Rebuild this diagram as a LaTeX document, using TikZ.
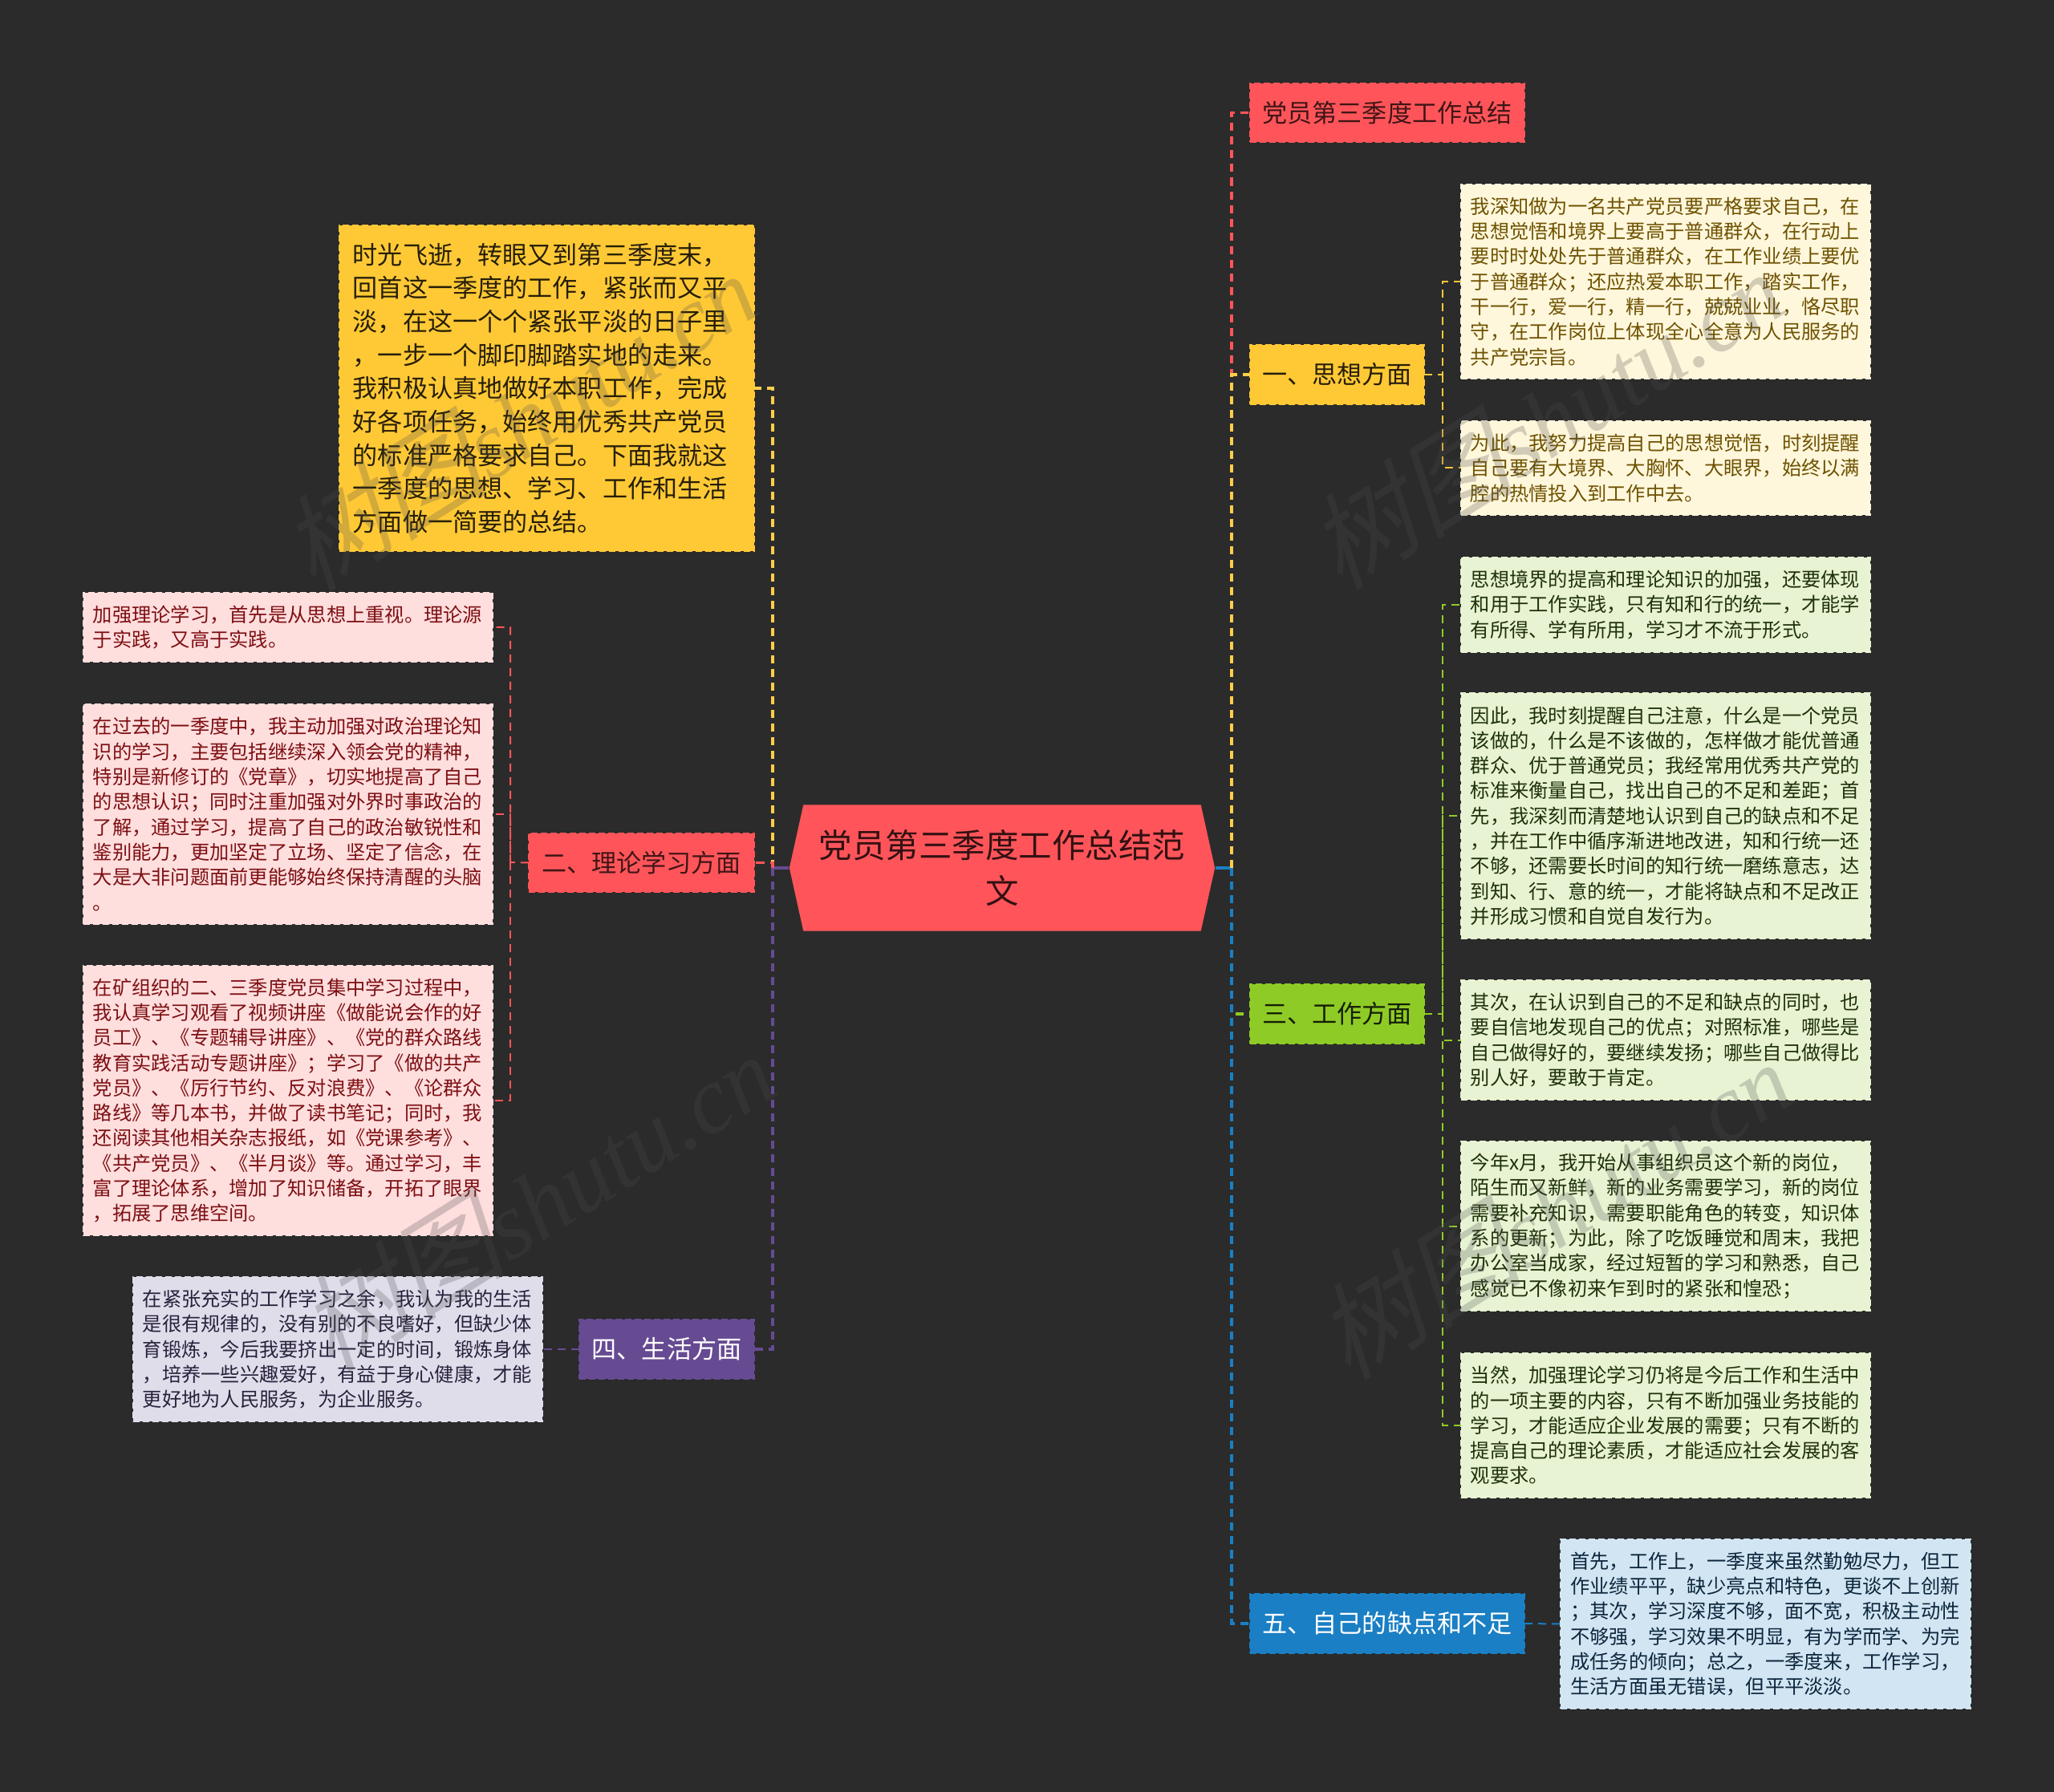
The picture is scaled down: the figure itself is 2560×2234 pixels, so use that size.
\documentclass[tikz,border=0pt]{standalone}
\usepackage{fontspec}
\setmainfont{Noto Sans CJK SC}
\newfontfamily\markserif{Liberation Serif}
\newfontfamily\markcjk[AutoFakeSlant=0.25]{Noto Sans CJK SC}
\usetikzlibrary{shapes.symbols}
\definecolor{bgdark}{HTML}{2B2B2B}
\definecolor{redmain}{HTML}{FF555A}
\definecolor{yellowmain}{HTML}{FFC936}
\definecolor{greenmain}{HTML}{8FCB26}
\definecolor{purplemain}{HTML}{664B92}
\definecolor{bluemain}{HTML}{1A7FC4}
\definecolor{rosefill}{HTML}{FFDEDE}
\definecolor{creamfill}{HTML}{FFF7DC}
\definecolor{greenfill}{HTML}{E8F3D3}
\definecolor{mauvefill}{HTML}{E0DDEB}
\definecolor{skyfill}{HTML}{D1E5F3}
\tikzset{
  edged/.style={draw=#1, fill=#1, line width=.25mm, dash pattern=on .8mm off .4mm, outer sep=0pt},
  leaf/.style={inner xsep=.12cm, inner ysep=0pt, text width=4.86cm, minimum width=5.1cm, align=left, yshift=-.01cm,
    font=\fontsize{6.9}{8.9}\selectfont},
  leafrose/.style={leaf, edged=rosefill, text={rgb,255:red,125;green,15;blue,18}},
  leafcream/.style={leaf, edged=creamfill, text={rgb,255:red,110;green,82;blue,0}},
  leafgreen/.style={leaf, edged=greenfill, text={rgb,255:red,30;green,50;blue,10}},
  leafmauve/.style={leaf, edged=mauvefill, text={rgb,255:red,40;green,34;blue,60}},
  leafsky/.style={leaf, edged=skyfill, text={rgb,255:red,12;green,38;blue,60}},
  branch/.style={minimum height=.73cm, inner sep=0pt, align=center,
    font=\fontsize{8.85}{11.86}\selectfont},
  trunk/.style={draw=#1, line width=.35mm, dash pattern=on 1mm off .7mm},
  twig/.style={draw=#1, line width=.2mm, dash pattern=on 1mm off .7mm},
  rootstub/.style={draw=#1, line width=.35mm},
  wmark/.style={text={rgb,255:red,76;green,76;blue,76}, opacity=.25, rotate=32, font=\fontsize{34}{36}\selectfont\markserif\itshape}
}
\begin{document}
\begin{tikzpicture}[x=.01cm, y=-.01cm]
  \fill[bgdark] (0,0) rectangle (2560,2234);
  \coordinate (trunkr) at (1535,1082);
  \coordinate (trunkl) at (963,1082);
  \coordinate (forkone) at (1798,467);
  \coordinate (forkthree) at (1798,1264);
  \coordinate (forktwo) at (636,1075);

  \node[signal, signal from=nowhere, signal to=east and west, signal pointer angle=155, fill=redmain, text=black!80!redmain,
    inner sep=0pt, minimum width=5.3cm, minimum height=1.57cm, text width=4.7cm, align=center,
    font=\fontsize{11.8}{16.1}\selectfont] (root) at (1249,1082) {党员第三季度工作总结范\\文};

  \node[branch, edged=redmain, text=black!75!redmain, minimum width=3.42cm] (title) at (1729,140.5) {党员第三季度工作总结};
  \node[branch, edged=yellowmain, text=black!85!yellowmain, minimum width=2.17cm] (one) at (1666.5,467) {一、思想方面};
  \node[branch, edged=greenmain, text=black!85!greenmain, minimum width=2.17cm] (three) at (1666.5,1264) {三、工作方面};
  \node[branch, edged=bluemain, text=white, minimum width=3.42cm] (five) at (1729,2024) {五、自己的缺点和不足};
  \node[branch, edged=redmain, text=black!75!redmain, minimum width=2.81cm] (two) at (799.5,1075.5) {二、理论学习方面};
  \node[branch, edged=purplemain, text=white, minimum width=2.18cm] (four) at (831,1682) {四、生活方面};

  \node[edged=yellowmain, text=black!85!yellowmain, inner xsep=.17cm, inner ysep=0pt, text width=4.83cm, minimum width=5.17cm,
    minimum height=4.06cm, align=left, yshift=-.01cm, font=\fontsize{8.85}{11.86}\selectfont] (intro) at (681.5,483) {时光飞逝，转眼又到第三季度末，\\回首这一季度的工作，紧张而又平\\淡，在这一个个紧张平淡的日子里\\，一步一个脚印脚踏实地的走来。\\我积极认真地做好本职工作，完成\\好各项任务，始终用优秀共产党员\\的标准严格要求自己。下面我就这\\一季度的思想、学习、工作和生活\\方面做一简要的总结。};

  \node[leafcream, minimum height=2.42cm] (thinka) at (2076,350) {我深知做为一名共产党员要严格要求自己，在\\思想觉悟和境界上要高于普通群众，在行动上\\要时时处处先于普通群众，在工作业绩上要优\\于普通群众；还应热爱本职工作，踏实工作，\\干一行，爱一行，精一行，兢兢业业，恪尽职\\守，在工作岗位上体现全心全意为人民服务的\\共产党宗旨。};
  \node[leafcream, minimum height=1.17cm] (thinkb) at (2076,582.5) {为此，我努力提高自己的思想觉悟，时刻提醒\\自己要有大境界、大胸怀、大眼界，始终以满\\腔的热情投入到工作中去。};

  \node[leafgreen, minimum height=1.18cm] (worka) at (2076,753) {思想境界的提高和理论知识的加强，还要体现\\和用于工作实践，只有知和行的统一，才能学\\有所得、学有所用，学习才不流于形式。};
  \node[leafgreen, minimum height=3.06cm] (workb) at (2076,1016) {因此，我时刻提醒自己注意，什么是一个党员\\该做的，什么是不该做的，怎样做才能优普通\\群众、优于普通党员；我经常用优秀共产党的\\标准来衡量自己，找出自己的不足和差距；首\\先，我深刻而清楚地认识到自己的缺点和不足\\，并在工作中循序渐进地改进，知和行统一还\\不够，还需要长时间的知行统一磨练意志，达\\到知、行、意的统一，才能将缺点和不足改正\\并形成习惯和自觉自发行为。};
  \node[leafgreen, minimum height=1.49cm] (workc) at (2076,1295.5) {其次，在认识到自己的不足和缺点的同时，也\\要自信地发现自己的优点；对照标准，哪些是\\自己做得好的，要继续发扬；哪些自己做得比\\别人好，要敢于肯定。};
  \node[leafgreen, minimum height=2.11cm] (workd) at (2076,1527.5) {今年x月，我开始从事组织员这个新的岗位，\\陌生而又新鲜，新的业务需要学习，新的岗位\\需要补充知识，需要职能角色的转变，知识体\\系的更新；为此，除了吃饭睡觉和周末，我把\\办公室当成家，经过短暂的学习和熟悉，自己\\感觉已不像初来乍到时的紧张和惶恐；};
  \node[leafgreen, minimum height=1.8cm] (worke) at (2076,1776) {当然，加强理论学习仍将是今后工作和生活中\\的一项主要的内容，只有不断加强业务技能的\\学习，才能适应企业发展的需要；只有不断的\\提高自己的理论素质，才能适应社会发展的客\\观要求。};

  \node[leafsky, minimum height=2.11cm] (lack) at (2200.5,2023.5) {首先，工作上，一季度来虽然勤勉尽力，但工\\作业绩平平，缺少亮点和特色，更谈不上创新\\；其次，学习深度不够，面不宽，积极主动性\\不够强，学习效果不明显，有为学而学、为完\\成任务的倾向；总之，一季度来，工作学习，\\生活方面虽无错误，但平平淡淡。};

  \node[leafrose, minimum height=.86cm] (studya) at (359,781) {加强理论学习，首先是从思想上重视。理论源\\于实践，又高于实践。};
  \node[leafrose, minimum height=2.74cm] (studyb) at (359,1014) {在过去的一季度中，我主动加强对政治理论知\\识的学习，主要包括继续深入领会党的精神，\\特别是新修订的《党章》，切实地提高了自己\\的思想认识；同时注重加强对外界时事政治的\\了解，通过学习，提高了自己的政治敏锐性和\\鉴别能力，更加坚定了立场、坚定了信念，在\\大是大非问题面前更能够始终保持清醒的头脑\\。};
  \node[leafrose, minimum height=3.36cm] (studyc) at (359,1371) {在矿组织的二、三季度党员集中学习过程中，\\我认真学习观看了视频讲座《做能说会作的好\\员工》、《专题辅导讲座》、《党的群众路线\\教育实践活动专题讲座》；学习了《做的共产\\党员》、《厉行节约、反对浪费》、《论群众\\路线》等几本书，并做了读书笔记；同时，我\\还阅读其他相关杂志报纸，如《党课参考》、\\《共产党员》、《半月谈》等。通过学习，丰\\富了理论体系，增加了知识储备，开拓了眼界\\，拓展了思维空间。};

  \node[leafmauve, minimum height=1.8cm] (life) at (421,1681) {在紧张充实的工作学习之余，我认为我的生活\\是很有规律的，没有别的不良嗜好，但缺少体\\育锻炼，今后我要挤出一定的时间，锻炼身体\\，培养一些兴趣爱好，有益于身心健康，才能\\更好地为人民服务，为企业服务。};

  \draw[rootstub=bluemain] (root.east) -- (trunkr);
  \draw[rootstub=purplemain] (root.west) -- (trunkl);
  \draw[trunk=redmain] (trunkr) |- (title.west);
  \draw[trunk=yellowmain!90!white] (trunkr) |- (one.west);
  \draw[trunk=greenmain] (trunkr) |- (three.west);
  \draw[trunk=bluemain] (trunkr) |- (five.west);
  \draw[trunk=yellowmain!90!white] (trunkl) |- (intro.east);
  \draw[trunk=redmain] (trunkl) |- (two.east);
  \draw[trunk=purplemain] (trunkl) |- (four.east);

  \draw[twig=yellowmain] (one.east) -- (forkone) |- (thinka.west);
  \draw[twig=yellowmain] (forkone) |- (thinkb.west);
  \draw[twig=greenmain] (three.east) -- (forkthree) |- (worka.west);
  \draw[twig=greenmain] (forkthree) |- (workb.west);
  \draw[twig=greenmain] (forkthree) |- (workc.west);
  \draw[twig=greenmain] (forkthree) |- (workd.west);
  \draw[twig=greenmain] (forkthree) |- (worke.west);
  \draw[twig=redmain] (two.west) -- (forktwo) |- (studya.east);
  \draw[twig=redmain] (forktwo) |- (studyb.east);
  \draw[twig=redmain] (forktwo) |- (studyc.east);
  \draw[twig=purplemain] (four.west) -- (life.east);
  \draw[twig=bluemain] (five.east) -- (lack.west);

  \foreach \wx/\wy [count=\wi] in {645/522, 1925/520, 668/1495, 1935/1505}
    \node[wmark] (mark\wi) at (\wx,\wy) {{\markcjk\fontsize{37}{36}\selectfont 树图}shutu.cn};
\end{tikzpicture}
\end{document}
